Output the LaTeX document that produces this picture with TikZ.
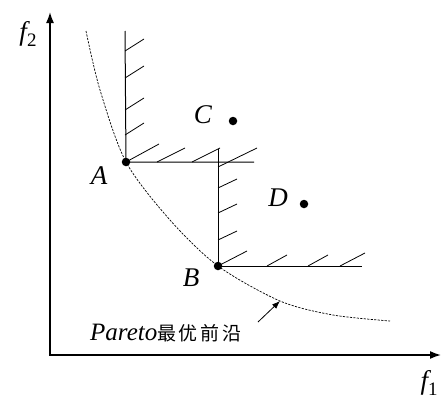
\documentclass[tikz,border=0pt]{standalone}
\usepackage{fontspec}
\setmainfont{Liberation Serif}
\newfontfamily\cjk[LetterSpace=14]{Noto Sans CJK SC}
\usetikzlibrary{arrows.meta}

\newcommand{\fsub}[1]{\textit{f}\raisebox{-6pt}{\fontsize{19}{19}\selectfont\upshape #1}}

\begin{document}
\begin{tikzpicture}[
  x=1pt, y=-1pt,
  axis/.style={line width=1.6pt, {Latex[length=11pt,width=8pt]}-{Latex[length=11pt,width=8pt]}},
  bound/.style={line width=1pt},
  hatchline/.style={line width=0.8pt},
  front/.style={line width=0.7pt, dash pattern=on 2.2pt off 1.3pt},
  dot/.style={circle, fill, inner sep=0pt, minimum size=8.5pt},
  lbl/.style={font=\fontsize{27}{27}\selectfont\itshape, inner sep=0pt}
]
  \useasboundingbox (0,0) rectangle (442,399);

  % axes
  \coordinate (O) at (50,355);
  \coordinate (xend) at (441,355);
  \coordinate (yend) at (50,12);
  \draw[axis] (yend) -- (O) -- (xend);
  \node[lbl] (f2) at (28,34) {\fsub{2}};
  \node[lbl] (f1) at (429,383) {\fsub{1}};

  % points
  \node[dot] (A) at (126,162) {};
  \node[dot] (B) at (218,266) {};
  \node[dot] (C) at (233,121) {};
  \node[dot] (D) at (304,204) {};
  \node[lbl] (Alab) at (99,176) {A};
  \node[lbl] (Blab) at (191,278) {B};
  \node[lbl] (Clab) at (203,115) {C};
  \node[lbl] (Dlab) at (278,198) {D};

  % dominated regions
  \coordinate (Atop) at (125,31);
  \coordinate (Aright) at (254,162);
  \coordinate (Btop) at (218,149);
  \coordinate (Bright) at (362,266);
  \draw[bound] (Atop) -- (A.center) -- (Aright);
  \draw[bound] (Btop) -- (B.center) -- (Bright);
  \foreach \y in {51,78,110,135}
    \draw[hatchline] (125,\y) -- ++(19,-12);
  \draw[hatchline] (A.center) -- ++(33,-18);
  \foreach \x in {157,192}
    \draw[hatchline] (\x,162) -- ++(28,-14);
  \draw[hatchline] (218,167) -- ++(39,-19);
  \foreach \y in {188,213,240}
    \draw[hatchline] (218,\y) -- ++(19,-9);
  \draw[hatchline] (B.center) -- ++(29,-15);
  \foreach \x in {267,308}
    \draw[hatchline] (\x,266) -- ++(20,-11);
  \draw[hatchline] (340,266) -- ++(25,-13);

  % Pareto front
  \draw[front] plot[smooth] coordinates {(86,31) (100,90) (126,162) (170,220)
    (218,266) (280,301) (333,315) (390,321)};
  \coordinate (tip) at (280,301);
  \coordinate (tail) at (258,322);
  \draw[line width=0.8pt, -{Latex[length=8pt,width=6pt]}] (tail) -- (tip);
  \node[anchor=west, inner sep=0pt] (pareto) at (90,333)
    {\fontsize{25}{25}\selectfont\textit{Pareto}\cjk\fontsize{19}{19}\selectfont 最优前沿};
\end{tikzpicture}
\end{document}
